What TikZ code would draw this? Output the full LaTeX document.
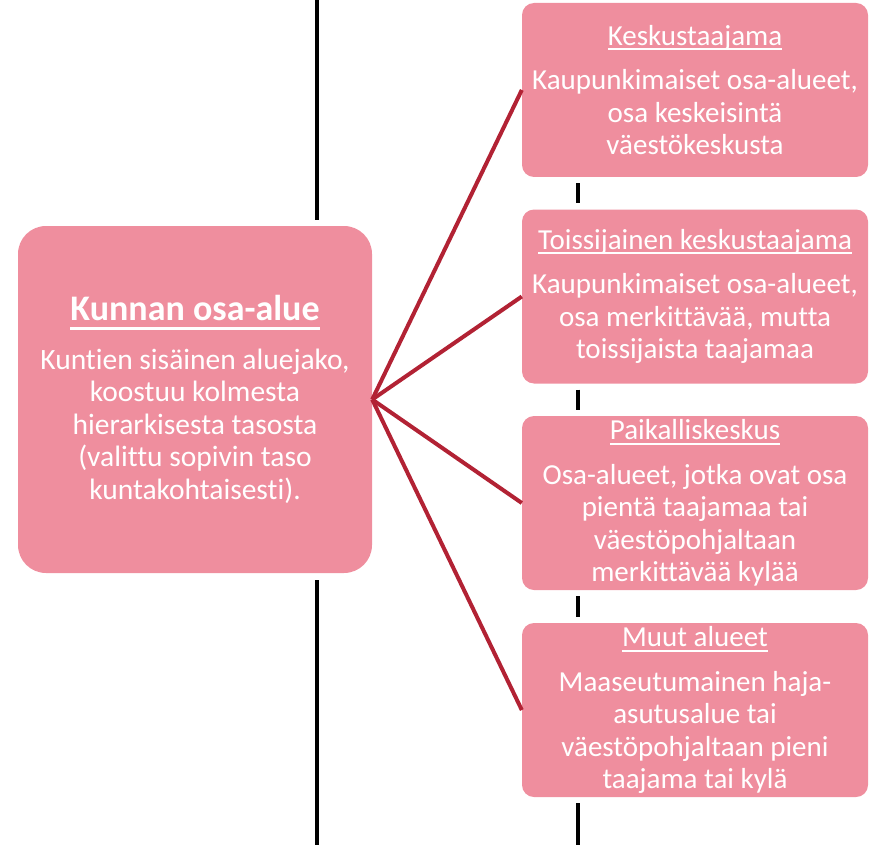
\documentclass[tikz,border=0pt]{standalone}
\usepackage{fontspec}
\setmainfont{Carlito}[Ligatures=NoCommon]
\definecolor{boxpink}{RGB}{239,142,158}
\definecolor{branchred}{RGB}{178,34,52}
\newlength{\headrule}
\setlength{\headrule}{2pt}
\newcommand{\boxhead}[2][3pt]{\setbox0=\hbox{#2}\leavevmode\rlap{\usebox0}%
  \smash{\rule[-\dimexpr #1+\headrule\relax]{\wd0}{\headrule}}}

\tikzset{
  areabox/.style={fill=boxpink, rounded corners=28pt, minimum width=354pt, minimum height=347pt,
    inner sep=0pt, align=center, text=white, font=\fontsize{29.5}{32.5}\selectfont},
  levelbox/.style={fill=boxpink, rounded corners=12pt, minimum width=346pt, minimum height=174pt,
    inner sep=0pt, align=center, text=white, font=\fontsize{29}{32.5}\selectfont},
  branch/.style={draw=branchred, line width=4pt},
  rail/.style={draw=black, line width=4.5pt}
}

\begin{document}
\begin{tikzpicture}[x=1pt, y=-1pt]
\useasboundingbox ( 0, 0 ) rectangle ( 869, 845 );

% Rails
\coordinate (railL) at ( 317, 0 );
\coordinate (railLend) at ( 317, 845 );
\coordinate (railR) at ( 578, 0 );
\coordinate (railRend) at ( 578, 845 );

% Municipal area
\node [areabox] (kunta) at ( 195, 399.5 ) {{\fontsize{36}{42}\selectfont\bfseries\setlength{\headrule}{3pt}\boxhead[6pt]{Kunnan osa-alue}}\\[16pt]
  Kuntien sisäinen aluejako,\\koostuu kolmesta\\hierarkisesta tasosta\\(valittu sopivin taso\\kuntakohtaisesti).};

% Levels
\node [levelbox] (keskus) at ( 695, 90 ) {\boxhead{Keskustaajama}\\[12pt]
  Kaupunkimaiset osa-alueet,\\osa keskeisintä\\väestökeskusta};
\node [levelbox] (toissijainen) at ( 695, 296.5 ) {\boxhead{Toissijainen keskustaajama}\\[12pt]
  Kaupunkimaiset osa-alueet,\\osa merkittävää, mutta\\toissijaista taajamaa};
\node [levelbox] (paikallinen) at ( 695, 503 ) {\boxhead{Paikalliskeskus}\\[12pt]
  Osa-alueet, jotka ovat osa\\pientä taajamaa tai\\väestöpohjaltaan\\merkittävää kylää};
\node [levelbox] (muut) at ( 695, 710 ) {\boxhead{Muut alueet}\\[12pt]
  Maaseutumainen haja-\\asutusalue tai\\väestöpohjaltaan pieni\\taajama tai kylä};

% Rail pieces in the gaps
\draw [rail] (railL) -- ([yshift=6pt]kunta.north -| railL);
\draw [rail] ([yshift=-7pt]kunta.south -| railL) -- (railLend);
\draw [rail] ([yshift=-6pt]keskus.south -| railR) -- ([yshift=6pt]toissijainen.north -| railR);
\draw [rail] ([yshift=-6pt]toissijainen.south -| railR) -- ([yshift=6pt]paikallinen.north -| railR);
\draw [rail] ([yshift=-6pt]paikallinen.south -| railR) -- ([yshift=6pt]muut.north -| railR);
\draw [rail] ([yshift=-6pt]muut.south -| railR) -- (railRend);

% Branches
\draw [branch] (kunta.east) -- (keskus.west);
\draw [branch] (kunta.east) -- (toissijainen.west);
\draw [branch] (kunta.east) -- (paikallinen.west);
\draw [branch] (kunta.east) -- (muut.west);

\end{tikzpicture}
\end{document}
